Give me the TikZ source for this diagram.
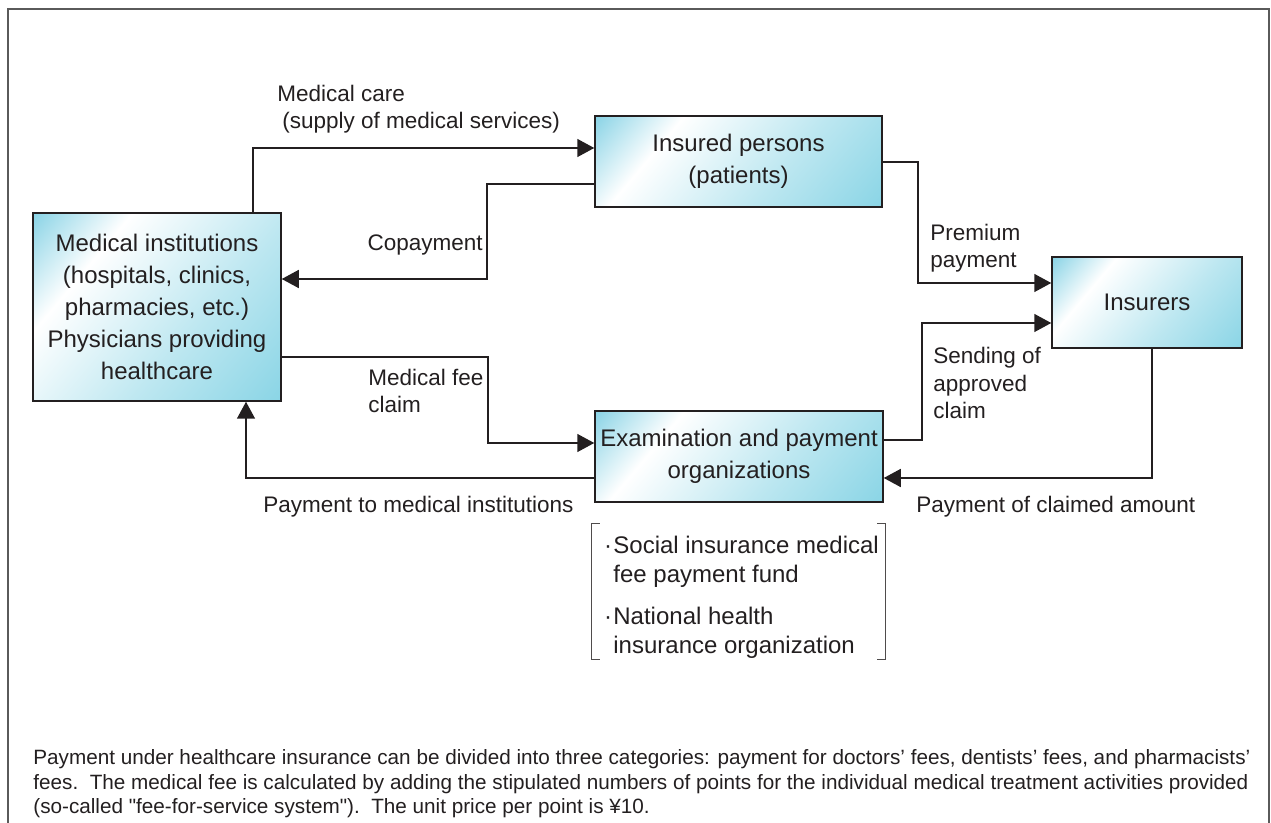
\documentclass[tikz,border=0pt]{standalone}
\usepackage{fontspec}
\setmainfont{Liberation Sans}[Ligatures=TeXOff]
\usetikzlibrary{arrows.meta}
\definecolor{ink}{HTML}{231F20}
\definecolor{cyanA}{HTML}{5EC3DC}
\definecolor{cyanB}{HTML}{6CCADF}
\definecolor{frame}{HTML}{5A5A5A}
\pgfdeclarehorizontalshading{boxshade}{100bp}{color(0bp)=(cyanA); color(12bp)=(cyanA!85!white); color(32bp)=(white); color(60bp)=(cyanB!45!white); color(100bp)=(cyanB)}
\tikzset{
  box/.style={draw=ink, line width=0.75pt, shading=boxshade, shading angle=-40, align=center, text=ink, font=\fontsize{12pt}{16pt}\selectfont, inner sep=0pt},
  lbl/.style={text=ink, align=left, inner sep=0pt, font=\fontsize{11.25pt}{13.75pt}\selectfont},
  arr/.style={draw=ink, line width=0.75pt, -{Triangle[length=8.5pt,width=9pt]}},
  item/.style={text=ink, align=left, inner sep=0pt, anchor=west, font=\fontsize{12pt}{14.5pt}\selectfont},
}
\begin{document}
\begin{tikzpicture}[x=0.5pt, y=-0.5pt]
\useasboundingbox (0,0) rectangle (1271,823);
% frame (open at bottom)
\draw[frame, line width=0.75pt] (8,823) -- (8,9) -- (1269,9) -- (1269,823);

% boxes
\node[box, minimum width=124pt, minimum height=94pt] (med) at (157,307)
  {Medical institutions\\(hospitals, clinics,\\pharmacies, etc.)\\Physicians providing\\healthcare};
\node[box, minimum width=143.5pt, minimum height=45.5pt] (ins) at (738.5,161.5)
  {Insured persons\\(patients)};
\node[box, minimum width=95pt, minimum height=45.5pt] (insr) at (1147,302.5)
  {Insurers};
\node[box, minimum width=144pt, minimum height=45.5pt] (exam) at (739,456.5)
  {Examination and payment\\organizations};

% connectors
\draw[arr] ([xshift=48pt]med.north) |- ([yshift=6.75pt]ins.west);
\draw[arr] ([yshift=-11.25pt]ins.west) -- (487,184) -- (487,279) -- ([yshift=14pt]med.east);
\draw[arr] ([yshift=-0.25pt]ins.east) -- (918,162) -- (918,283) -- ([yshift=9.75pt]insr.west);
\draw[arr] ([yshift=8.25pt]exam.east) -- (922,440) -- (922,323) -- ([yshift=-10.25pt]insr.west);
\draw[arr] ([xshift=2.5pt]insr.south) -- (1152,478) -- ([yshift=-10.75pt]exam.east);
\draw[arr] ([yshift=-25pt]med.east) -- (488,357) -- (488,443) -- ([yshift=6.75pt]exam.west);
\draw[arr] ([yshift=-10.75pt]exam.west) -- (246,478) -- ([xshift=44.5pt]med.south);

% labels
\node[lbl, anchor=west] (lcare) at (277,109) {Medical care\\\hspace*{2.5pt}(supply of medical services)};
\node[lbl, anchor=east] (lcopay) at (483,245) {Copayment};
\node[lbl, anchor=west] (lprem) at (930,248) {Premium\\payment};
\node[lbl, anchor=west] (lsend) at (933,383) {Sending of\\approved\\claim};
\node[lbl, anchor=west] (lfee) at (368,391) {Medical fee\\claim};
\node[lbl, anchor=west] (lpaymed) at (263,507) {Payment to medical institutions};
\node[lbl, anchor=west] (lpayclm) at (916,507) {Payment of claimed amount};

% bracket with organisations
\node[minimum width=146.5pt, minimum height=67.5pt, inner sep=0pt] (brk) at (738.5,591.5) {};
\draw[ink!80, line width=0.5pt] ([xshift=4pt]brk.north west) -- (brk.north west) -- (brk.south west) -- ([xshift=4pt]brk.south west);
\draw[ink!80, line width=0.5pt] ([xshift=-4pt]brk.north east) -- (brk.north east) -- (brk.south east) -- ([xshift=-4pt]brk.south east);
\node[item] (it1) at (613,562) {\llap{·\hspace{0.6pt}}Social insurance medical\\fee payment fund};
\node[item] (it2) at (613,633) {\llap{·\hspace{0.6pt}}National health\\insurance organization};

% footnote
\node[text=ink, align=left, inner sep=0pt, anchor=west, font=\fontsize{10.35pt}{12.25pt}\selectfont] (foot) at (33,784)
 {Payment under healthcare insurance can be divided into three categories: payment for doctors’ fees, dentists’ fees, and pharmacists’\\
  fees.\ \ The medical fee is calculated by adding the stipulated numbers of points for the individual medical treatment activities provided\\
  (so-called "fee-for-service system").\ \ The unit price per point is ¥10.};
\end{tikzpicture}
\end{document}
